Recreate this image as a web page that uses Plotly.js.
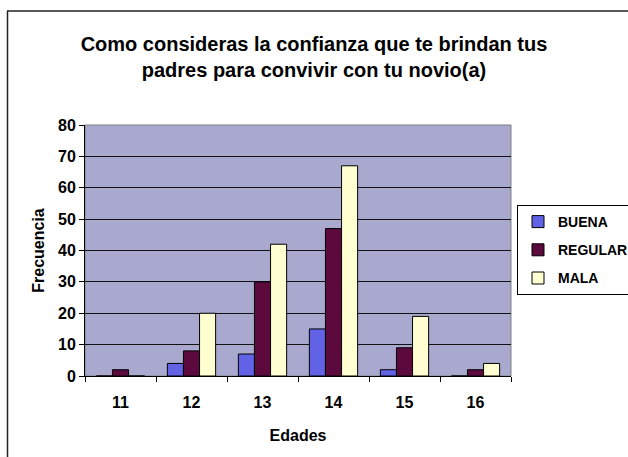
<!DOCTYPE html>
<html>
<head>
<meta charset="utf-8">
<script src="https://cdn.plot.ly/plotly-3.0.1.min.js"></script>
<style>
html,body{margin:0;padding:0;background:#fff;}
#chart{width:628px;height:457px;}
</style>
</head>
<body>
<div id="chart"></div>
<script>
var edades = ['11','12','13','14','15','16'];
var buena = [0, 4, 7, 15, 2, 0];
var regular = [2, 8, 30, 47, 9, 2];
var mala = [0, 20, 42, 67, 19, 4];
var seriesNames = ['BUENA','REGULAR','MALA'];
var titleText = 'Como consideras la confianza que te brindan tus<br>padres para convivir con tu novio(a)';

var colors = ['#6262E6', '#5C0A3E', '#FFFFD2'];
var font = 'Arial, "Liberation Sans", sans-serif';

var traces = [buena, regular, mala].map(function(vals, i){
  return {
    type: 'bar', x: edades, y: vals, name: '<b>' + seriesNames[i] + '</b>',
    legendgroup: 'g' + i,
    marker: {color: colors[i], line: {color: '#000', width: 1}}
  };
});

var L = 85, R = 511, T = 125, B = 376, W = 628, H = 457;
function px(x){ return (x - L) / (R - L); }
function py(y){ return (B - y) / (B - T); }

var layout = {
  width: W, height: H,
  margin: {l: L, r: W - R, t: T, b: H - B, pad: 0, autoexpand: false},
  paper_bgcolor: '#ffffff',
  plot_bgcolor: '#A9A9CF',
  font: {family: font, color: '#000', size: 12},
  title: {text: '<b>' + titleText + '</b>', font: {family: font, size: 20, color: '#000'},
          x: 0.5, xref: 'container', xanchor: 'center', y: 1 - 51/H, yref: 'container', yanchor: 'middle'},
  barmode: 'group', bargap: 0.32, bargroupgap: 0,
  showlegend: true,
  legend: {x: 517/W, y: 1 - 205/H, xref: 'container', yref: 'container', xanchor: 'left', yanchor: 'top',
           bgcolor: '#fff', bordercolor: '#000', borderwidth: 1,
           font: {family: font, size: 14, color: '#000'}, itemwidth: 30,
           traceorder: 'grouped', tracegroupgap: 7},
  xaxis: {type: 'category', tickson: 'boundaries', ticks: 'outside', ticklen: 5, tickcolor: '#000',
          showline: true, linecolor: '#000', linewidth: 1, showgrid: false,
          ticklabelstandoff: 12,
          tickprefix: '<b>', ticksuffix: '</b>',
          tickfont: {family: font, size: 16, color: '#000'},
          title: {text: '<b>Edades</b>', font: {family: font, size: 16, color: '#000'}, standoff: 19}},
  yaxis: {range: [0, 80], dtick: 10, ticks: 'outside', ticklen: 5, tickcolor: '#000',
          showline: true, linecolor: '#000', linewidth: 1,
          showgrid: true, gridcolor: '#111', gridwidth: 1, zeroline: false,
          tickprefix: '<b>', ticksuffix: '</b>',
          tickfont: {family: font, size: 16, color: '#000'},
          title: {text: '<b>Frecuencia</b>', font: {family: font, size: 16, color: '#000'}, standoff: 9}},
  shapes: [
    {type: 'rect', xref: 'paper', yref: 'paper', x0: 0, x1: 1, y0: 0, y1: 1,
     line: {color: '#808080', width: 1}, layer: 'below'},
    {type: 'line', xref: 'paper', yref: 'paper', x0: px(7), x1: px(630), y0: py(11), y1: py(11),
     line: {color: '#222', width: 1.5}},
    {type: 'line', xref: 'paper', yref: 'paper', x0: px(7.5), x1: px(7.5), y0: py(11), y1: py(460),
     line: {color: '#222', width: 1.5}}
  ]
};

Plotly.newPlot('chart', traces, layout, {displayModeBar: false, staticPlot: true});
</script>
</body>
</html>
